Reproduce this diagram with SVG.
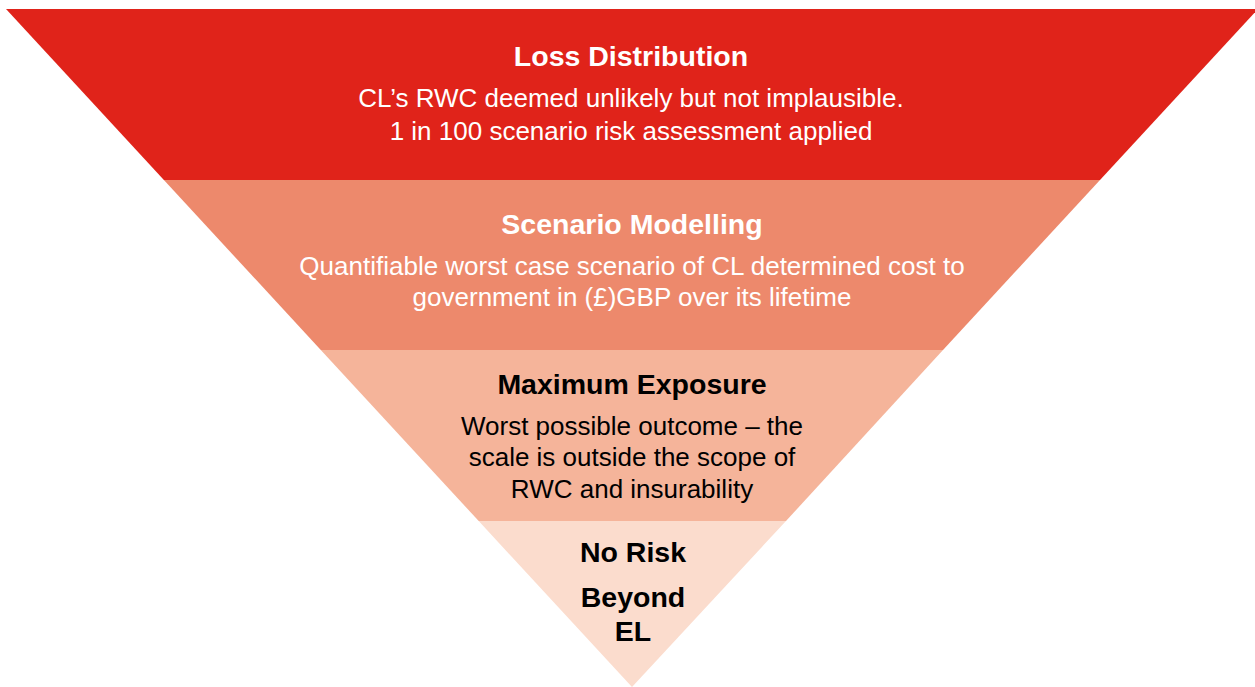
<svg xmlns="http://www.w3.org/2000/svg" width="1255" height="687" viewBox="0 0 1255 687">
  <style>
    .title { font-family: "Liberation Sans", Arial, sans-serif; font-weight: bold; font-size: 28.5px; text-anchor: middle; }
    .body { font-family: "Liberation Sans", Arial, sans-serif; font-size: 26px; text-anchor: middle; }
    .light { fill: #ffffff; }
    .dark { fill: #000000; }
  </style>
  <rect width="1255" height="687" fill="#ffffff"/>

  <!-- Tier 1: loss distribution -->
  <g id="loss-distribution">
    <polygon points="6,9 1258,9 1100,180 163.9,180" fill="#E0231A"/>
    <text class="title light" x="631" y="66">Loss Distribution</text>
    <text class="body light" x="631" y="107">CL’s RWC deemed unlikely but not implausible.</text>
    <text class="body light" x="631" y="140">1 in 100 scenario risk assessment applied</text>
  </g>

  <!-- Tier 2: scenario modelling -->
  <g id="scenario-modelling">
    <polygon points="163.9,180 1100,180 943,350 320.8,350" fill="#ED896C"/>
    <text class="title light" x="632" y="234">Scenario Modelling</text>
    <text class="body light" x="632" y="275">Quantifiable worst case scenario of CL determined cost to</text>
    <text class="body light" x="632" y="306">government in (£)GBP over its lifetime</text>
  </g>

  <!-- Tier 3: maximum exposure -->
  <g id="maximum-exposure">
    <polygon points="320.8,350 943,350 786,521 478.7,521" fill="#F5B49A"/>
    <text class="title dark" x="632" y="394">Maximum Exposure</text>
    <text class="body dark" x="632" y="435">Worst possible outcome – the</text>
    <text class="body dark" x="632" y="466">scale is outside the scope of</text>
    <text class="body dark" x="632" y="498">RWC and insurability</text>
  </g>

  <!-- Tier 4: no risk beyond EL -->
  <g id="no-risk-beyond-el">
    <polygon points="478.7,521 786,521 632,687" fill="#FBDCCD"/>
    <text class="title dark" x="633" y="562">No Risk</text>
    <text class="title dark" x="633" y="607">Beyond</text>
    <text class="title dark" x="633" y="641">EL</text>
  </g>

  <!-- no connectors in this diagram -->
  <g id="connectors"/>
</svg>
